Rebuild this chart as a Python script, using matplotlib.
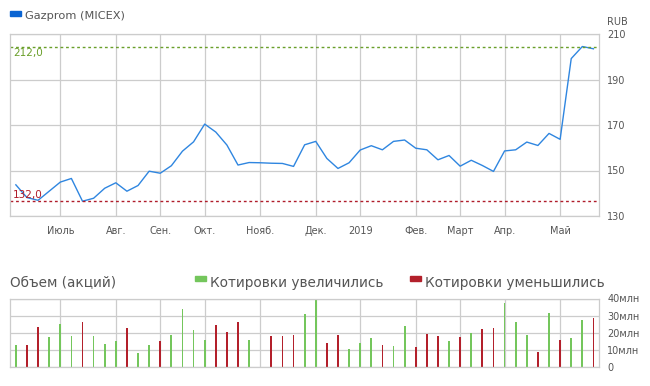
import matplotlib
matplotlib.use('Agg')
import matplotlib.pyplot as plt
from matplotlib.patches import Rectangle
import numpy as np

# weekly closing prices (axis scale as labelled)
price = [143.7, 138.1, 136.9, 140.9, 144.9, 146.5, 136.5, 137.8, 142.2, 144.6,
         140.9, 143.4, 149.7, 148.8, 152.1, 158.5, 162.6, 170.4, 166.9, 161.2,
         152.4, 153.5, 153.4, 153.2, 153.1, 151.8, 161.3, 162.8, 155.3, 150.9,
         153.4, 159.0, 160.9, 159.1, 162.8, 163.4, 159.8, 159.1, 154.7, 156.6,
         151.9, 154.5, 152.2, 149.6, 158.6, 159.1, 162.5, 161.0, 166.3, 163.7,
         199.2, 204.5, 203.5]

# weekly volume, millions of shares
volume = [13.0, 13.0, 23.5, 17.7, 25.2, 18.3, 26.4, 18.3, 13.6, 15.3,
          22.9, 8.3, 13.0, 15.3, 18.8, 34.0, 21.7, 15.9, 24.7, 20.6,
          26.4, 15.9, 0.0, 18.3, 18.3, 18.8, 31.1, 39.8, 14.2, 18.8,
          10.7, 14.2, 17.1, 13.0, 12.4, 24.1, 11.8, 19.4, 18.3, 15.3,
          17.7, 20.0, 22.3, 22.9, 37.5, 26.4, 18.8, 8.9, 31.7, 15.9,
          17.1, 27.6, 28.7]
# 1 = price went up, 0 = went down
up = [1, 0, 0, 1, 1, 1, 0, 1, 1, 1,
      0, 1, 1, 0, 1, 1, 1, 1, 0, 0,
      0, 1, 0, 0, 0, 0, 1, 1, 0, 0,
      1, 1, 1, 0, 1, 1, 0, 0, 0, 1,
      0, 1, 0, 0, 1, 1, 1, 0, 1, 0,
      1, 1, 0]

month_pos = [4, 9, 13, 17, 22, 27, 31, 36, 40, 44, 49]
month_labels = ['Июль', 'Авг.', 'Сен.', 'Окт.', 'Нояб.', 'Дек.', '2019',
                'Фев.', 'Март', 'Апр.', 'Май']
price_ticks = [130, 150, 170, 190, 210]
vol_ticks = [0, 10, 20, 30, 40]
vol_labels = ['0', '10млн', '20млн', '30млн', '40млн']
hi_label, lo_label = '212,0', '132,0'

grid_c = '#cccccc'
text_c = '#555555'
line_c = '#2f86e0'
green = '#74c65c'
red = '#b3202b'

x = np.arange(len(price))

fig = plt.figure(figsize=(6.5, 3.86), dpi=100)
ax = fig.add_axes([10.3 / 650, 1 - 216 / 386, 588.7 / 650, 182 / 386])
axv = fig.add_axes([10.3 / 650, 1 - 367.3 / 386, 588.7 / 650, 68.8 / 386])

for a in (ax, axv):
    a.set_xlim(-0.5, len(price) - 0.5)
    a.set_xticks(month_pos)
    a.grid(True, color=grid_c, linewidth=0.9)
    a.set_axisbelow(True)
    for s in a.spines.values():
        s.set_color(grid_c)
        s.set_linewidth(0.9)
    a.yaxis.tick_right()
    a.tick_params(length=0, colors=text_c, labelsize=7)
    a.tick_params(axis='y', pad=6)

# price panel
ax.set_ylim(130, 210)
ax.set_yticks(price_ticks)
ax.set_xticklabels(month_labels)
ax.tick_params(axis='x', pad=13)
for lbl in ax.get_xticklabels():
    lbl.set_verticalalignment('baseline')
ax.plot(x, price, color=line_c, linewidth=1.0)
hi, lo = max(price), min(price)
ax.axhline(hi, color='#6a9f2a', linewidth=1, linestyle=(0, (2, 2)))
ax.axhline(lo, color='#b01c2a', linewidth=1, linestyle=(0, (2, 2)))
ax.text(0.005, hi - 0.8, hi_label, color='#6a9f2a', fontsize=7.5,
        transform=ax.get_yaxis_transform(), va='top', ha='left')
ax.text(0.005, lo + 0.6, lo_label, color='#b01c2a', fontsize=7.5,
        transform=ax.get_yaxis_transform(), va='bottom', ha='left')
ax.text(1.0135, 1.065, 'RUB', transform=ax.transAxes, color=text_c,
        fontsize=7, va='center', ha='left')

# volume panel
colors = [green if u else red for u in up]
axv.bar(x, volume, width=0.16, color=colors, linewidth=0, antialiased=False)
axv.set_ylim(0, 40)
axv.set_yticks(vol_ticks)
axv.set_yticklabels(vol_labels)
axv.set_xticklabels([])

# legends drawn as figure text
fig.patches.append(Rectangle((10 / 650, 1 - 16 / 386), 11 / 650, 5 / 386,
                             transform=fig.transFigure, color='#0a64d2'))
fig.text(25 / 650, 1 - 16 / 386, 'Gazprom (MICEX)', color=text_c,
         fontsize=8.2, va='center', ha='left')
fig.text(10 / 650, 1 - 283 / 386, 'Объем (акций)', color=text_c,
         fontsize=9.8, va='center', ha='left')
fig.patches.append(Rectangle((195 / 650, 1 - 281 / 386), 11 / 650, 5 / 386,
                             transform=fig.transFigure, color=green))
fig.text(210 / 650, 1 - 283 / 386, 'Котировки увеличились', color=text_c,
         fontsize=9.8, va='center', ha='left')
fig.patches.append(Rectangle((410 / 650, 1 - 281 / 386), 11 / 650, 5 / 386,
                             transform=fig.transFigure, color=red))
fig.text(425 / 650, 1 - 283 / 386, 'Котировки уменьшились', color=text_c,
         fontsize=9.8, va='center', ha='left')

fig.savefig('out.png', dpi=100)
